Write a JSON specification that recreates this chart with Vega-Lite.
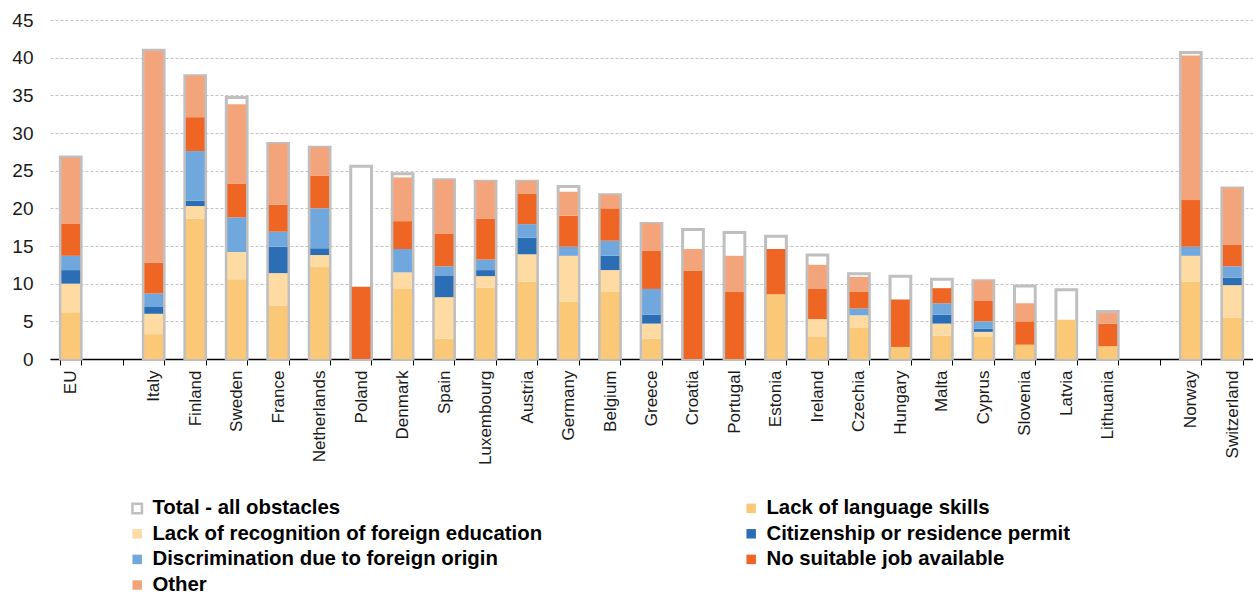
{
  "$schema": "https://vega.github.io/schema/vega-lite/v6.json",
  "width": 1203,
  "height": 339,
  "autosize": {"type": "none"},
  "padding": {"left": 50, "top": 20, "right": 0, "bottom": 238},
  "background": "white",
  "config": {
    "font": "Liberation Sans",
    "view": {"stroke": null},
    "axisY": {
      "title": null,
      "values": [0,5,10,15,20,25,30,35,40,45],
      "domain": false,
      "ticks": false,
      "labelFontSize": 19,
      "labelColor": "#1a1a1a",
      "labelPadding": 17,
      "labelOverlap": false,
      "gridColor": "#c4c4c4",
      "gridDash": [3, 2],
      "gridWidth": 1
    }
  },
  "datasets": {
    "rows": [
      {"c":"EU","t":26.8,"L":6.2,"R":3.8,"C":1.8,"D":1.9,"N":4.3,"O":8.7},
      {"c":"Italy","t":41.0,"L":3.3,"R":2.7,"C":0.9,"D":1.8,"N":4.1,"O":28.1},
      {"c":"Finland","t":37.6,"L":18.6,"R":1.7,"C":0.7,"D":6.6,"N":4.5,"O":5.5},
      {"c":"Sweden","t":34.7,"L":10.6,"R":3.6,"C":0,"D":4.6,"N":4.5,"O":10.5},
      {"c":"France","t":28.6,"L":7.1,"R":4.3,"C":3.5,"D":2.0,"N":3.6,"O":8.1},
      {"c":"Netherlands","t":28.1,"L":12.2,"R":1.6,"C":0.9,"D":5.3,"N":4.3,"O":3.8},
      {"c":"Poland","t":25.6,"L":0,"R":0,"C":0,"D":0,"N":9.6,"O":0},
      {"c":"Denmark","t":24.6,"L":9.3,"R":2.2,"C":0,"D":3.1,"N":3.7,"O":5.8},
      {"c":"Spain","t":23.8,"L":2.7,"R":5.5,"C":2.9,"D":1.2,"N":4.3,"O":7.2},
      {"c":"Luxembourg","t":23.6,"L":9.5,"R":1.5,"C":0.8,"D":1.4,"N":5.4,"O":5.0},
      {"c":"Austria","t":23.6,"L":10.3,"R":3.6,"C":2.2,"D":1.8,"N":4.0,"O":1.7},
      {"c":"Germany","t":22.9,"L":7.6,"R":6.1,"C":0,"D":1.2,"N":4.1,"O":3.2},
      {"c":"Belgium","t":21.8,"L":8.9,"R":2.9,"C":1.9,"D":2.0,"N":4.3,"O":1.8},
      {"c":"Greece","t":18.0,"L":2.7,"R":2.0,"C":1.2,"D":3.4,"N":5.1,"O":3.6},
      {"c":"Croatia","t":17.2,"L":0,"R":0,"C":0,"D":0,"N":11.7,"O":2.9},
      {"c":"Portugal","t":16.8,"L":0,"R":0,"C":0,"D":0,"N":8.9,"O":4.8},
      {"c":"Estonia","t":16.3,"L":8.6,"R":0,"C":0,"D":0,"N":6.0,"O":0},
      {"c":"Ireland","t":13.8,"L":3.0,"R":2.3,"C":0,"D":0,"N":4.0,"O":3.2},
      {"c":"Czechia","t":11.3,"L":4.2,"R":1.6,"C":0,"D":0.9,"N":2.2,"O":2.0},
      {"c":"Hungary","t":11.0,"L":1.6,"R":0,"C":0,"D":0,"N":6.3,"O":0},
      {"c":"Malta","t":10.6,"L":3.1,"R":1.6,"C":1.2,"D":1.5,"N":2.0,"O":0},
      {"c":"Cyprus","t":10.4,"L":3.0,"R":0.6,"C":0.4,"D":1.0,"N":2.7,"O":2.7},
      {"c":"Slovenia","t":9.7,"L":1.9,"R":0,"C":0,"D":0,"N":3.1,"O":2.4},
      {"c":"Latvia","t":9.2,"L":5.2,"R":0,"C":0,"D":0,"N":0,"O":0},
      {"c":"Lithuania","t":6.3,"L":1.7,"R":0,"C":0,"D":0,"N":3.0,"O":1.4},
      {"c":"Norway","t":40.7,"L":10.3,"R":3.4,"C":0,"D":1.2,"N":6.2,"O":19.2},
      {"c":"Switzerland","t":22.7,"L":5.5,"R":4.3,"C":1.0,"D":1.5,"N":2.9,"O":7.5}
    ],
    "names": [
      {"key":"L","s":"Lack of language skills","k":1},
      {"key":"R","s":"Lack of recognition of foreign education","k":2},
      {"key":"C","s":"Citizenship or residence permit","k":3},
      {"key":"D","s":"Discrimination due to foreign origin","k":4},
      {"key":"N","s":"No suitable job available","k":5},
      {"key":"O","s":"Other","k":6}
    ]
  },
  "data": {"name": "rows"},
  "encoding": {
    "x": {
      "field": "c",
      "type": "nominal",
      "sort": null,
      "scale": {
        "domain": ["EU"," ","Italy","Finland","Sweden","France","Netherlands","Poland","Denmark","Spain","Luxembourg","Austria","Germany","Belgium","Greece","Croatia","Portugal","Estonia","Ireland","Czechia","Hungary","Malta","Cyprus","Slovenia","Latvia","Lithuania","  ","Norway","Switzerland"],
        "paddingInner": 0.5,
        "paddingOuter": 0.25
      },
      "axis": {
        "title": null,
        "labelAngle": -90,
        "labelFontSize": 17,
        "labelColor": "#1a1a1a",
        "labelPadding": 5,
        "tickBand": "extent",
        "tickSize": 6,
        "tickColor": "#000000",
        "domainColor": "#000000",
        "domainWidth": 1.5,
        "grid": false
      }
    }
  },
  "layer": [
    {
      "mark": {"type": "bar", "stroke": "#bfbfbf", "strokeWidth": 3},
      "encoding": {
        "y": {
          "field": "t",
          "type": "quantitative",
          "scale": {"domain": [0, 45], "nice": false}
        },
        "color": {"datum": "Total - all obstacles"}
      }
    },
    {
      "transform": [
        {"fold": ["L","R","C","D","N","O"], "as": ["key","v"]},
        {"filter": "datum.v > 0"},
        {"lookup": "key", "from": {"data": {"name": "names"}, "key": "key", "fields": ["s","k"]}}
      ],
      "mark": {"type": "bar", "width": {"band": 0.9}},
      "encoding": {
        "y": {"field": "v", "type": "quantitative", "stack": "zero"},
        "order": {"field": "k", "type": "quantitative", "sort": "ascending"},
        "color": {
          "field": "s",
          "type": "nominal",
          "scale": {
            "domain": ["Total - all obstacles","Lack of language skills","Lack of recognition of foreign education","Citizenship or residence permit","Discrimination due to foreign origin","No suitable job available","Other"],
            "range": ["#ffffff","#fbc877","#fedba2","#2b6eb5","#70a8dd","#ee6524","#f4a47b"]
          },
          "legend": {
            "title": null,
            "orient": "none",
            "legendX": 77,
            "legendY": 478,
            "direction": "horizontal",
            "columns": 2,
            "columnPadding": 198,
            "rowPadding": 4.6,
            "symbolType": "square",
            "symbolSize": 90,
            "labelFontSize": 20.4,
            "labelFontWeight": "bold",
            "labelColor": "#000000",
            "labelOffset": 5,
            "labelLimit": 700,
            "encode": {
              "symbols": {
                "update": {
                  "stroke": {"signal": "datum.label === 'Total - all obstacles' ? '#bfbfbf' : 'transparent'"},
                  "strokeWidth": {"value": 2.5}
                }
              }
            }
          }
        }
      }
    }
  ]
}
